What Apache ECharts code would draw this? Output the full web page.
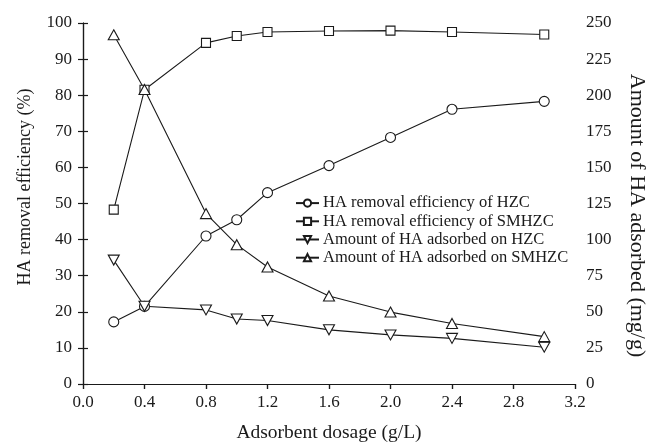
<!DOCTYPE html>
<html>
<head>
<meta charset="utf-8">
<script src="https://cdn.jsdelivr.net/npm/echarts@6/dist/echarts.min.js"></script>
<style>
  html, body { margin: 0; padding: 0; background: #fff; }
  #chart { width: 657px; height: 448px; }
</style>
</head>
<body>
<div id="chart"></div>
<script>
// Adsorbent dosage (g/L)
const dosage = [0.2, 0.4, 0.8, 1.0, 1.2, 1.6, 2.0, 2.4, 3.0];

// HA removal efficiency (%) — left axis
const effHZC   = [17.2, 21.5, 41.0, 45.5, 53.0, 60.5, 68.3, 76.1, 78.3];
const effSMHZC = [48.3, 81.5, 94.5, 96.4, 97.5, 97.8, 97.9, 97.5, 96.8];

// Amount of HA adsorbed (mg/g) — right axis
const qHZC   = [85.8, 53.8, 51.3, 45.0, 44.0, 37.5, 34.0, 31.6, 25.5];
const qSMHZC = [241.8, 204.0, 118.0, 96.5, 81.0, 61.0, 49.8, 41.9, 32.8];

const seriesNames = [
  'HA removal efficiency of HZC',
  'HA removal efficiency of SMHZC',
  'Amount of HA adsorbed on HZC',
  'Amount of HA adsorbed on SMHZC'
];

const FONT = '"Liberation Serif", "DejaVu Serif", serif';
const INK = '#1a1a1a';

function pairs(ys) { return dosage.map((x, i) => [x, ys[i]]); }

const downTri = 'path://M0,0 L10,0 L5,8.66 Z';
const upTri = 'path://M5,0 L10,8.66 L0,8.66 Z';

function mkSeries(name, ys, symbol, size, yIdx) {
  return {
    name: name,
    type: 'line',
    yAxisIndex: yIdx,
    data: pairs(ys),
    symbol: symbol,
    symbolSize: size,
    showAllSymbol: true,
    lineStyle: { color: INK, width: 1.1 },
    itemStyle: { color: '#fff', borderColor: INK, borderWidth: 1.1 },
    emphasis: { disabled: true },
    animation: false,
    z: 3
  };
}

const chart = echarts.init(document.getElementById('chart'), null, { renderer: 'canvas' });

const axisLine = { show: true, lineStyle: { color: INK, width: 1.2 } };
const tickStyle = { color: INK, width: 1.2 };
const axisLabel = { color: INK, fontFamily: FONT, fontSize: 17 };

chart.setOption({
  backgroundColor: '#fff',
  animation: false,
  grid: { left: 83, right: 82, top: 23, bottom: 59, containLabel: false },
  legend: {
    data: seriesNames,
    orient: 'vertical',
    left: 295,
    top: 194,
    itemWidth: 23,
    itemHeight: 9,
    itemGap: 0,
    padding: 0,
    textStyle: { color: INK, fontFamily: FONT, fontSize: 16.5, lineHeight: 18.2, padding: [0, 0, 0, -1] },
    selectedMode: false
  },
  xAxis: [
    {
      type: 'value', min: 0, max: 3.2, interval: 0.4,
      name: 'Adsorbent dosage (g/L)', nameLocation: 'middle', nameGap: 39,
      nameTextStyle: { color: INK, fontFamily: FONT, fontSize: 19.5 },
      axisLine: axisLine,
      axisTick: { show: true, inside: false, length: 5, lineStyle: tickStyle },
      axisLabel: Object.assign({ margin: 10, formatter: v => v.toFixed(1) }, axisLabel),
      splitLine: { show: false }
    },
    {
      type: 'value', min: 0, max: 3.2, interval: 0.4, position: 'top',
      axisLine: axisLine,
      axisTick: { show: true, inside: true, length: 5, lineStyle: tickStyle },
      axisLabel: { show: false },
      splitLine: { show: false }
    }
  ],
  yAxis: [
    {
      type: 'value', min: 0, max: 100, interval: 10, position: 'left',
      name: 'HA removal efficiency (%)', nameLocation: 'middle', nameGap: 49, nameRotate: 90,
      nameTextStyle: { color: INK, fontFamily: FONT, fontSize: 18, padding: [0, 0, 0, 33] },
      axisLine: axisLine,
      axisTick: { show: true, inside: false, length: 5, lineStyle: tickStyle },
      axisLabel: Object.assign({ margin: 11 }, axisLabel),
      splitLine: { show: false }
    },
    {
      type: 'value', min: 0, max: 250, interval: 25, position: 'right',
      name: 'Amount of HA adsorbed (mg/g)', nameLocation: 'middle', nameGap: 51, nameRotate: -90,
      nameTextStyle: { color: INK, fontFamily: FONT, fontSize: 22, padding: [0, 0, 0, 24] },
      axisLine: axisLine,
      axisTick: { show: true, inside: false, length: 5, lineStyle: tickStyle },
      axisLabel: Object.assign({ margin: 11 }, axisLabel),
      splitLine: { show: false }
    }
  ],
  series: [
    mkSeries(seriesNames[0], effHZC, 'circle', 10, 0),
    mkSeries(seriesNames[1], effSMHZC, 'rect', 9, 0),
    mkSeries(seriesNames[2], qHZC, downTri, [11, 10], 1),
    mkSeries(seriesNames[3], qSMHZC, upTri, [11, 10], 1)
  ]
});
</script>
</body>
</html>
